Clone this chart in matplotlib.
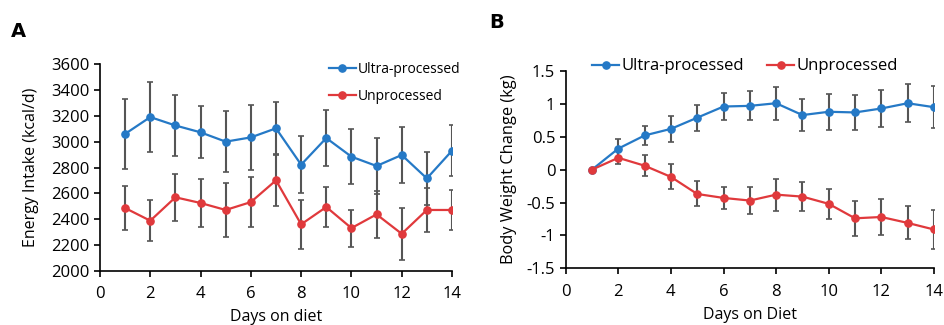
import matplotlib
matplotlib.use("Agg")
import matplotlib.pyplot as plt
from matplotlib.ticker import FuncFormatter

plt.rcParams['font.family'] = ['Open Sans', 'DejaVu Sans']

days = list(range(1, 15))

# panel A: energy intake (kcal/d), mean and error
intake_ultra = [3060, 3190, 3125, 3072, 3000, 3033, 3103, 2822, 3028, 2884, 2812, 2897, 2716, 2930]
intake_ultra_err = [270, 273, 235, 200, 235, 252, 202, 220, 215, 215, 220, 215, 205, 197]
intake_unproc = [2487, 2389, 2570, 2526, 2472, 2533, 2701, 2361, 2495, 2332, 2438, 2288, 2472, 2472]
intake_unproc_err = [172, 157, 180, 183, 207, 195, 195, 190, 157, 143, 180, 202, 170, 158]

# panel B: body weight change (kg)
weight_ultra = [0, 0.32, 0.52, 0.62, 0.79, 0.96, 0.97, 1.01, 0.83, 0.88, 0.87, 0.93, 1.01, 0.95]
weight_ultra_err = [0, 0.14, 0.15, 0.20, 0.20, 0.21, 0.22, 0.25, 0.24, 0.27, 0.27, 0.28, 0.29, 0.32]
weight_unproc = [0, 0.18, 0.06, -0.11, -0.37, -0.43, -0.47, -0.38, -0.41, -0.52, -0.74, -0.72, -0.81, -0.91]
weight_unproc_err = [0, 0.10, 0.16, 0.19, 0.19, 0.17, 0.21, 0.245, 0.215, 0.225, 0.27, 0.28, 0.25, 0.30]

labels = ['Ultra-processed', 'Unprocessed']
blue = '#2579c6'
red = '#e0393c'
errc = '#555555'

fig = plt.figure(figsize=(9.45, 3.25), dpi=100)
axA = fig.add_axes([0.1058, 0.166, 0.3725, 0.637])
axB = fig.add_axes([0.5986, 0.1745, 0.3897, 0.607])


def style(ax):
    for s in ['top', 'right']:
        ax.spines[s].set_visible(False)
    for s in ['left', 'bottom']:
        ax.spines[s].set_linewidth(1.2)
    ax.tick_params(direction='out', length=4, width=1.2, labelsize=12)
    ax.tick_params(axis='x', pad=7)
    ax.set_xlim(0, 14)
    ax.set_xticks(range(0, 15, 2))


def draw(ax, y, err, color, label):
    ax.errorbar(days, y, yerr=err, fmt='none', ecolor=errc, elinewidth=1.5,
                capsize=2.3, capthick=1.2, zorder=2)
    ax.plot(days, y, '-o', color=color, lw=1.6, ms=5.2, label=label, zorder=3)


style(axA)
draw(axA, intake_ultra, intake_ultra_err, blue, labels[0])
draw(axA, intake_unproc, intake_unproc_err, red, labels[1])
axA.set_ylim(2000, 3600)
axA.set_yticks(range(2000, 3601, 200))
axA.set_ylabel('Energy Intake (kcal/d)', fontsize=11.5, labelpad=9)
axA.set_xlabel('Days on diet', fontsize=11.5, labelpad=5)
axA.legend(loc='upper right', bbox_to_anchor=(1.06, 1.07), frameon=False,
           fontsize=10, handlelength=1.95, handletextpad=0.15, labelspacing=0.85)

style(axB)
draw(axB, weight_ultra, weight_ultra_err, blue, labels[0])
draw(axB, weight_unproc, weight_unproc_err, red, labels[1])
axB.set_ylim(-1.5, 1.5)
axB.set_yticks([-1.5, -1, -0.5, 0, 0.5, 1, 1.5])
axB.yaxis.set_major_formatter(FuncFormatter(lambda v, p: ('%g' % v)))
axB.set_ylabel('Body Weight Change (kg)', fontsize=11.8, labelpad=7)
axB.set_xlabel('Days on Diet', fontsize=11.5, labelpad=5)
axB.legend(loc='upper center', bbox_to_anchor=(0.487, 1.14), ncol=2, frameon=False,
           fontsize=12, handlelength=1.6, handletextpad=0.15, columnspacing=1.4)

fig.text(0.012, 0.885, 'A', fontsize=14, fontweight='bold', family='DejaVu Sans')
fig.text(0.518, 0.915, 'B', fontsize=14, fontweight='bold', family='DejaVu Sans')

fig.savefig('out.png', dpi=100)
